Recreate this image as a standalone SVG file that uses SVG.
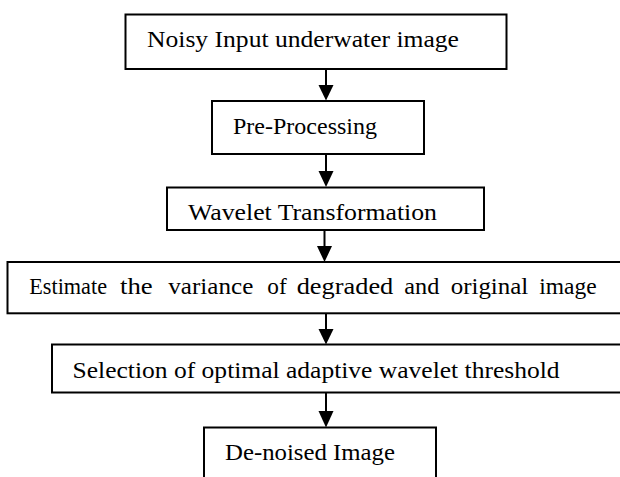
<svg xmlns="http://www.w3.org/2000/svg" width="620" height="477" viewBox="0 0 620 477">
<style>
.box{fill:#fff;stroke:#000;stroke-width:2}
.lbl{font-family:"Liberation Serif","Times New Roman",serif;font-size:23px;fill:#000}
.conn{stroke:#000;stroke-width:2;fill:none}
.head{fill:#000}
</style>
<rect width="620" height="477" fill="#fff"/>
<g id="connectors">
<line class="conn" x1="326" y1="69" x2="326" y2="86"/><polygon class="head" points="318.5,85 333.5,85 326,100.5"/>
<line class="conn" x1="326" y1="154" x2="326" y2="172"/><polygon class="head" points="318.5,171 333.5,171 326,187"/>
<line class="conn" x1="324.5" y1="230" x2="324.5" y2="247"/><polygon class="head" points="317,246 332,246 324.5,262"/>
<line class="conn" x1="326" y1="313" x2="326" y2="330"/><polygon class="head" points="318.5,329 333.5,329 326,344.5"/>
<line class="conn" x1="326" y1="392" x2="326" y2="412"/><polygon class="head" points="318.5,411 333.5,411 326,427.5"/>
</g>
<g id="n1"><rect class="box" x="125.5" y="14.5" width="381" height="54.5"/><text class="lbl" x="147" y="47.3" textLength="312" lengthAdjust="spacingAndGlyphs">Noisy Input underwater image</text></g>
<g id="n2"><rect class="box" x="212" y="101" width="212" height="53"/><text class="lbl" x="233" y="134" textLength="144" lengthAdjust="spacingAndGlyphs">Pre-Processing</text></g>
<g id="n3"><rect class="box" x="167" y="187.5" width="317" height="42.5"/><text class="lbl" x="188" y="220" textLength="249" lengthAdjust="spacingAndGlyphs">Wavelet Transformation</text></g>
<g id="n4"><rect class="box" x="7.5" y="262" width="620" height="51.3"/><text class="lbl" y="294"><tspan x="29.3" textLength="77.7" lengthAdjust="spacingAndGlyphs">Estimate</tspan> <tspan x="120" textLength="32.7" lengthAdjust="spacingAndGlyphs">the</tspan> <tspan x="168.3" textLength="85" lengthAdjust="spacingAndGlyphs">variance</tspan> <tspan x="267.3" textLength="19.4" lengthAdjust="spacingAndGlyphs">of</tspan> <tspan x="296.7" textLength="96.6" lengthAdjust="spacingAndGlyphs">degraded</tspan> <tspan x="404.3" textLength="35" lengthAdjust="spacingAndGlyphs">and</tspan> <tspan x="450.7" textLength="77.6" lengthAdjust="spacingAndGlyphs">original</tspan> <tspan x="539.3" textLength="57.4" lengthAdjust="spacingAndGlyphs">image</tspan></text></g>
<g id="n5"><rect class="box" x="52" y="344.5" width="580" height="48"/><text class="lbl" x="72.6" y="377.7" textLength="487" lengthAdjust="spacingAndGlyphs">Selection of optimal adaptive wavelet threshold</text></g>
<g id="n6"><rect class="box" x="204" y="427.5" width="232" height="60"/><text class="lbl" x="225" y="460" textLength="170" lengthAdjust="spacingAndGlyphs">De-noised Image</text></g>
</svg>
